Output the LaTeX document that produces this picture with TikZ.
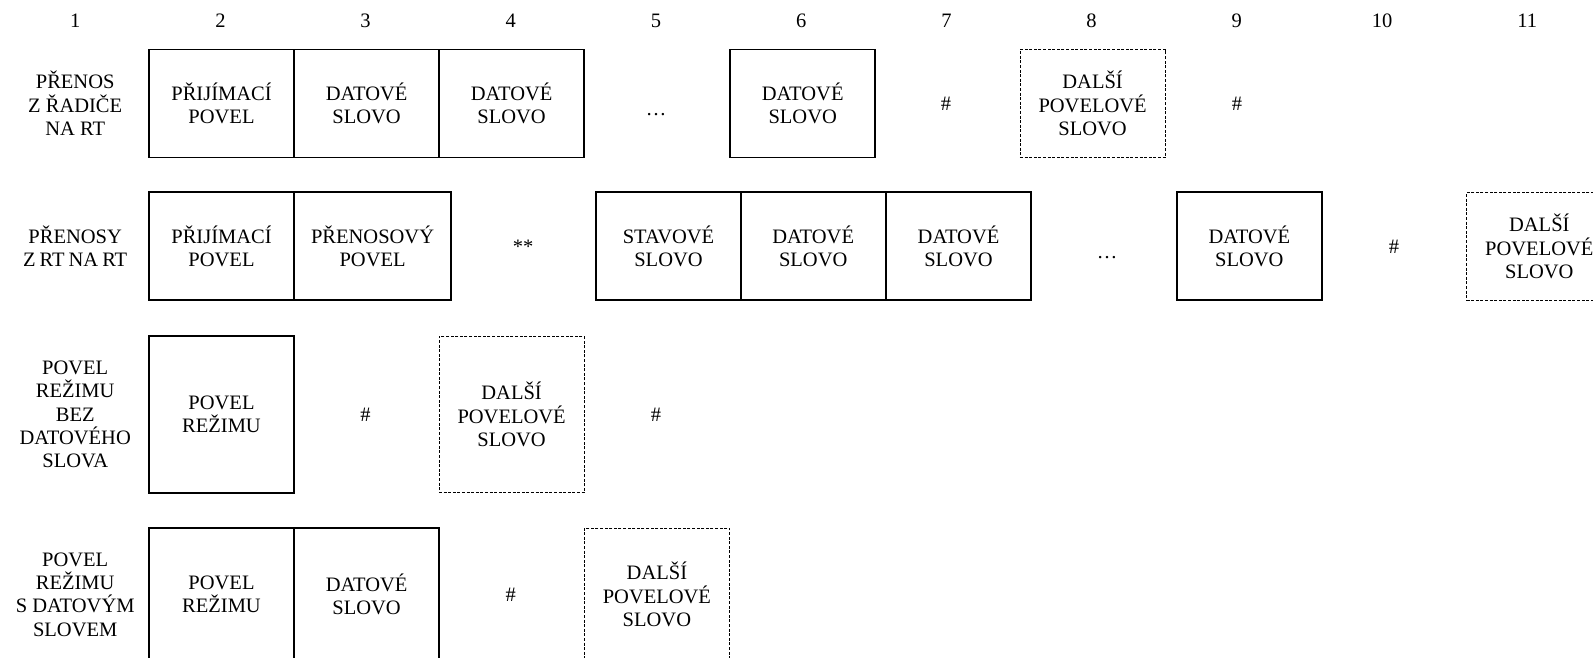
\documentclass[tikz,border=0pt]{standalone}
\usepackage{fontspec}
\setmainfont{Liberation Serif}
\begin{document}
\begin{tikzpicture}[x=1pt,y=-1pt,
  txt/.style={inner sep=0pt, align=center, font=\fontsize{20.5}{23.4}\selectfont},
  word/.style={txt, draw, line width=1.9pt, rectangle, minimum height=108pt, minimum width=145.3pt},
  nextword/.style={txt, draw, line width=0.9pt, dash pattern=on 3pt off 1.6pt, rectangle, minimum height=108pt, minimum width=145.3pt},
  tall/.style={minimum height=156.5pt},
  low/.style={minimum height=133pt}]
\clip (0,0) rectangle (1593,657);
\fill[white] (0,0) rectangle (1593,657);

% column numbers
\foreach \k in {1,...,11}
  \node[txt] (num\k) at ({75.2+(\k-1)*145.2},20.5) {\k};

% row 1: transfer from the controller to the RT
\node[txt] (lab1) at (75.2,103.5) {PŘENOS\\Z ŘADIČE\\NA RT};
\node[word] (r1a) at (221.5,103.5) {PŘIJÍMACÍ\\POVEL};
\node[word] (r1b) at (366.6,103.5) {DATOVÉ\\SLOVO};
\node[word] (r1c) at (511.6,103.5) {DATOVÉ\\SLOVO};
\node[txt] (r1d) at (656,114.5) {…};
\node[word] (r1e) at (802.7,103.5) {DATOVÉ\\SLOVO};
\node[txt] (r1f) at (946,103.5) {\#};
\node[nextword] (r1g) at (1092.6,103.5) {DALŠÍ\\POVELOVÉ\\SLOVO};
\node[txt] (r1h) at (1237,103.5) {\#};

% row 2: transfers from RT to RT
\node[txt] (lab2) at (75.2,246.4) {PŘENOSY\\Z\hspace{4pt}RT\hspace{4pt}NA\hspace{4pt}RT};
\node[word] (r2a) at (221.5,246.4) {PŘIJÍMACÍ\\POVEL};
\node[word, minimum width=156.8pt] (r2b) at (372.6,246.4) {PŘENOSOVÝ\\POVEL};
\node[txt] (r2c) at (523,246.4) {**};
\node[word] (r2d) at (668.5,246.4) {STAVOVÉ\\SLOVO};
\node[word] (r2e) at (813.2,246.4) {DATOVÉ\\SLOVO};
\node[word] (r2f) at (958.5,246.4) {DATOVÉ\\SLOVO};
\node[txt] (r2g) at (1107,257.5) {…};
\node[word] (r2h) at (1249.3,246.4) {DATOVÉ\\SLOVO};
\node[txt] (r2i) at (1394,246.4) {\#};
\node[nextword] (r2j) at (1539.3,246.4) {DALŠÍ\\POVELOVÉ\\SLOVO};

% row 3: mode command without a data word
\node[txt] (lab3) at (75.2,414.5) {POVEL\\REŽIMU\\BEZ\\DATOVÉHO\\SLOVA};
\node[word, tall] (r3a) at (221.5,414.5) {POVEL\\REŽIMU};
\node[txt] (r3b) at (365.6,414.5) {\#};
\node[nextword, tall] (r3c) at (511.6,414.5) {DALŠÍ\\POVELOVÉ\\SLOVO};
\node[txt] (r3d) at (656,414.5) {\#};

% row 4: mode command with a data word
\node[txt] (lab4) at (75.2,594.5) {POVEL\\REŽIMU\\S DATOVÝM\\SLOVEM};
\node[word, low] (r4a) at (221.5,594.5) {POVEL\\REŽIMU};
\node[word, low] (r4b) at (366.6,594.5) {DATOVÉ\\SLOVO};
\node[txt] (r4c) at (510.8,594.5) {\#};
\node[nextword, low] (r4d) at (656.9,594.5) {DALŠÍ\\POVELOVÉ\\SLOVO};
\end{tikzpicture}
\end{document}
